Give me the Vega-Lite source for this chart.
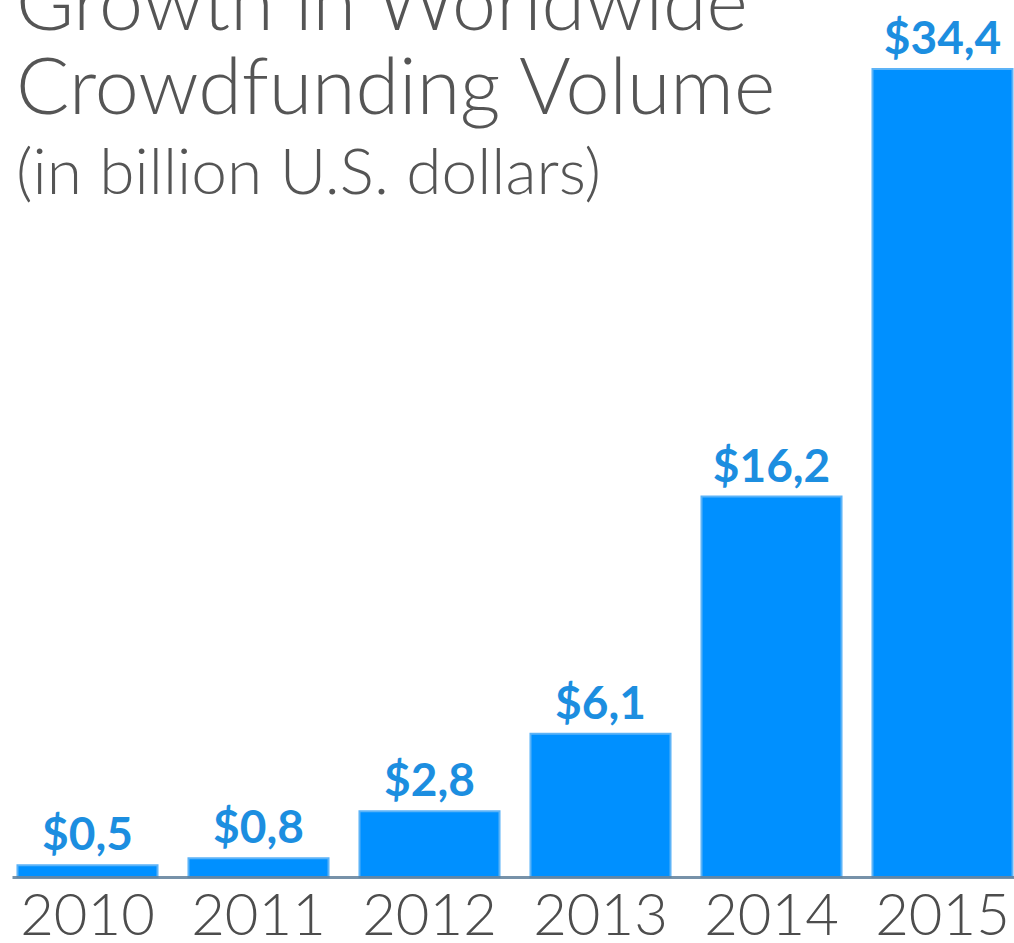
{
  "$schema": "https://vega.github.io/schema/vega-lite/v6.json",
  "width": 1014,
  "height": 877,
  "autosize": {"type": "none"},
  "padding": {"left": 0, "top": 0, "right": 0, "bottom": 66},
  "background": "white",
  "config": {"view": {"stroke": null}, "font": "Lato"},
  "title": {
    "text": ["Growth in Worldwide", "Crowdfunding Volume"],
    "subtitle": "(in billion U.S. dollars)",
    "anchor": "start",
    "frame": "group",
    "orient": "top",
    "offset": -208,
    "dx": 16,
    "font": "Lato",
    "fontSize": 79,
    "fontWeight": 300,
    "color": "#555555",
    "lineHeight": 84,
    "subtitleFont": "Lato",
    "subtitleFontSize": 64,
    "subtitleFontWeight": 300,
    "subtitleColor": "#555555",
    "subtitlePadding": 12
  },
  "data": {
    "values": [
      {"year": "2010", "volume": 0.5, "label": "$0,5"},
      {"year": "2011", "volume": 0.8, "label": "$0,8"},
      {"year": "2012", "volume": 2.8, "label": "$2,8"},
      {"year": "2013", "volume": 6.1, "label": "$6,1"},
      {"year": "2014", "volume": 16.2, "label": "$16,2"},
      {"year": "2015", "volume": 34.4, "label": "$34,4"}
    ]
  },
  "encoding": {
    "x": {
      "field": "year",
      "type": "ordinal",
      "sort": null,
      "scale": {"range": [12, 1018], "paddingInner": 0.181, "paddingOuter": 0.032},
      "axis": {
        "title": null,
        "ticks": false,
        "labelAngle": 0,
        "labelFont": "Lato",
        "labelFontSize": 58,
        "labelFontWeight": 300,
        "labelColor": "#4d4d4d",
        "labelPadding": 11,
        "domainColor": "#5f7f9a",
        "domainOpacity": 0.85,
        "domainWidth": 3,
        "zindex": 1
      }
    },
    "y": {
      "field": "volume",
      "type": "quantitative",
      "scale": {"domain": [0, 37.34], "nice": false},
      "axis": null
    }
  },
  "layer": [
    {
      "mark": {"type": "bar", "color": "#0090ff", "stroke": "#5cb3f7", "strokeWidth": 2}
    },
    {
      "mark": {"type": "text", "baseline": "alphabetic", "dy": -15, "font": "Lato", "fontSize": 46, "fontWeight": "bold", "color": "#1c8ee0"},
      "encoding": {"text": {"field": "label"}}
    }
  ]
}
